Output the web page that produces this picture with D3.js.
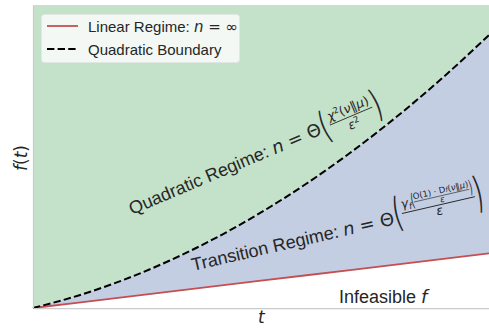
<!DOCTYPE html>
<html>
<head>
<meta charset="utf-8">
<script src="https://cdn.jsdelivr.net/npm/d3@7"></script>
<style>
  body { margin: 0; background: #fff; }
</style>
</head>
<body>
<div id="chart"></div>
<script>
// values
const tValues = [0, 0.1, 0.2, 0.3, 0.4, 0.5, 0.6, 0.7, 0.8, 0.9, 1.0];
const linearValues = [0, 0.1, 0.2, 0.3, 0.4, 0.5, 0.6, 0.7, 0.8, 0.9, 1.0];
const quadraticValues = [0, 0.23, 0.52, 0.87, 1.28, 1.75, 2.28, 2.87, 3.52, 4.23, 5.0];
const yDomain = [0, 5.55];
const legendLabels = ['Linear Regime: ', 'Quadratic Boundary'];

const WIDTH = 489;
const HEIGHT = 331;
const MARGIN_TOP = 5;
const MARGIN_RIGHT = 0;
const MARGIN_BOTTOM = 23;
const MARGIN_LEFT = 33;

const SANS = '"Liberation Sans", Arial, sans-serif';
const MATH = '"DejaVu Sans", sans-serif';
const TEXT = '#262626';
const GREEN = '#c4e1ca';
const BLUE = '#c3cee3';
const RED = '#c44e52';

const chartWidth = WIDTH - MARGIN_LEFT - MARGIN_RIGHT;
const chartHeight = HEIGHT - MARGIN_TOP - MARGIN_BOTTOM;

const data = tValues.map((t, i) => ({ t, lin: linearValues[i], quad: quadraticValues[i] }));

const svg = d3.select('#chart')
  .append('svg')
  .attr('width', WIDTH)
  .attr('height', HEIGHT)
  .attr('viewBox', `0 0 ${WIDTH} ${HEIGHT}`);

const g = svg.append('g').attr('transform', `translate(${MARGIN_LEFT},${MARGIN_TOP})`);

const x = d3.scaleLinear().domain([0, 1]).range([0, chartWidth]);
const y = d3.scaleLinear().domain(yDomain).range([chartHeight, 0]);

// regions
g.append('path')
  .datum(data)
  .attr('fill', GREEN)
  .attr('d', d3.area().x(d => x(d.t)).y0(y(yDomain[1])).y1(d => y(d.quad)).curve(d3.curveMonotoneX));

g.append('path')
  .datum(data)
  .attr('fill', BLUE)
  .attr('d', d3.area().x(d => x(d.t)).y0(d => y(d.lin)).y1(d => y(d.quad)).curve(d3.curveMonotoneX));

// lines
g.append('path')
  .datum(data)
  .attr('fill', 'none')
  .attr('stroke', RED)
  .attr('stroke-width', 1.8)
  .attr('d', d3.line().x(d => x(d.t)).y(d => y(d.lin)));

g.append('path')
  .datum(data)
  .attr('fill', 'none')
  .attr('stroke', '#000')
  .attr('stroke-width', 2)
  .attr('stroke-dasharray', '7.4,3.2')
  .attr('d', d3.line().x(d => x(d.t)).y(d => y(d.quad)).curve(d3.curveMonotoneX));

// spines, no ticks
const xAxis = d3.axisBottom(x).tickValues([]).tickSizeOuter(0);
const yAxis = d3.axisLeft(y).tickValues([]).tickSizeOuter(0);
g.append('g').attr('class', 'x axis').attr('transform', `translate(0,${chartHeight})`).call(xAxis);
g.append('g').attr('class', 'y axis').call(yAxis);
g.selectAll('.axis path').attr('stroke', '#cccccc').attr('stroke-width', 1.25);

// helpers for text
function txt(parent, px, py, parts, size, family, anchor) {
  const t = parent.append('text')
    .attr('x', px).attr('y', py)
    .attr('font-size', size)
    .attr('font-family', family || SANS)
    .attr('fill', TEXT);
  if (anchor) t.attr('text-anchor', anchor);
  parts.forEach(p => {
    const s = t.append('tspan').text(typeof p === 'string' ? p : p.s);
    if (p.i) s.attr('font-style', 'italic');
    if (p.f) s.attr('font-family', p.f);
    if (p.z) s.attr('font-size', p.z);
    if (p.dy) s.attr('dy', p.dy);
  });
  return t.node().getComputedTextLength();
}

function paren(parent, px, cy, ch, h, size) {
  // a tall delimiter: DejaVu glyph stretched vertically
  size = size || 18;
  const sy = h / (0.89 * size);
  parent.append('text')
    .attr('transform', `translate(${px},${cy + 0.315 * size * sy}) scale(1,${sy})`)
    .attr('font-size', size)
    .attr('font-family', MATH)
    .attr('fill', TEXT)
    .text(ch);
  return 0.39 * size;
}

function bar(parent, x1, x2, yy, sw) {
  parent.append('line').attr('x1', x1).attr('x2', x2).attr('y1', yy).attr('y2', yy)
    .attr('stroke', TEXT).attr('stroke-width', sw);
}

// axis labels
txt(svg, MARGIN_LEFT + chartWidth / 2 - 3, 323, [{ s: 't', i: true }], 17, MATH);
const yl = svg.append('g').attr('transform', 'translate(27,158) rotate(-90)');
txt(yl, 0, 0, [{ s: 'f', i: true }, '(', { s: 't', i: true }, ')'], 17, MATH, 'middle');

// infeasible label
txt(svg, 339, 303, ['Infeasible ', { s: 'f', i: true, f: MATH }], 18);

// quadratic regime label
{
  const q = svg.append('g').attr('transform', 'translate(132,215) rotate(-23)');
  let w = txt(q, 0, 0, ['Quadratic Regime: ', { s: 'n', i: true, f: MATH }, { s: ' = Θ', f: MATH }], 18);
  w += paren(q, w + 1, -6, '(', 34) + 3;
  const nw = txt(q, w + 1, -9.5, [{ s: 'χ', i: true }, { s: '2', z: 8.5, dy: -4.5 }, { s: '(', dy: 4.5 }, { s: 'ν', i: true }, '‖', { s: 'μ', i: true }, ')'], 12.6, MATH);
  bar(q, w, w + nw + 2, -5.5, 0.9);
  txt(q, w + 1 + nw / 2, 7, [{ s: 'ε', i: true }, { s: '2', z: 8.5, dy: -4.5 }], 12.6, MATH, 'middle');
  paren(q, w + nw + 3, -6, ')', 34);
}

// transition regime label
{
  const q = svg.append('g').attr('transform', 'translate(193,271) rotate(-13)');
  let w = txt(q, 0, 0, ['Transition Regime: ', { s: 'n', i: true, f: MATH }, { s: ' = Θ', f: MATH }], 18);
  w += paren(q, w + 1, -10, '(', 36) + 2;
  const x0 = w;
  let xx = w + 1;
  xx += txt(q, xx, -14, [{ s: 'γ', i: true }], 12.6, MATH);
  xx += txt(q, xx, -11.5, [{ s: 'f', i: true }], 8.5, MATH);
  xx += paren(q, xx, -19, '(', 16, 8.5) - 0.5;
  const innerW = txt(q, xx, -20, ['O(1) · D', { s: 'f', i: true, z: 6.5 }, '(', { s: 'ν', i: true }, '‖', { s: 'μ', i: true }, ')'], 8.5, MATH);
  bar(q, xx, xx + innerW, -17.5, 0.6);
  txt(q, xx + innerW / 2, -11, [{ s: 'ε', i: true }], 8.5, MATH, 'middle');
  xx += innerW;
  xx += paren(q, xx, -19, ')', 16, 8.5) + 0.5;
  bar(q, x0, xx, -9, 0.9);
  txt(q, (x0 + xx) / 2, 1, [{ s: 'ε', i: true }], 12.6, MATH, 'middle');
  paren(q, xx + 0.5, -11, ')', 38);
}

// legend
const legend = svg.append('g').attr('class', 'legend');
legend.append('rect')
  .attr('x', 41.5).attr('y', 14.5).attr('width', 198).attr('height', 48)
  .attr('rx', 3)
  .attr('fill', '#f3f8f4')
  .attr('stroke', '#dfe9e2')
  .attr('stroke-width', 1);
legend.append('line').attr('x1', 47).attr('x2', 78).attr('y1', 26).attr('y2', 26)
  .attr('stroke', RED).attr('stroke-width', 1.8);
legend.append('line').attr('x1', 47).attr('x2', 78).attr('y1', 49).attr('y2', 49)
  .attr('stroke', '#000').attr('stroke-width', 2).attr('stroke-dasharray', '7.4,3.2');
txt(legend, 88, 32, [legendLabels[0], { s: 'n', i: true, f: MATH }, { s: ' = ∞', f: MATH }], 15);
txt(legend, 88, 55, [legendLabels[1]], 15);
</script>
</body>
</html>
